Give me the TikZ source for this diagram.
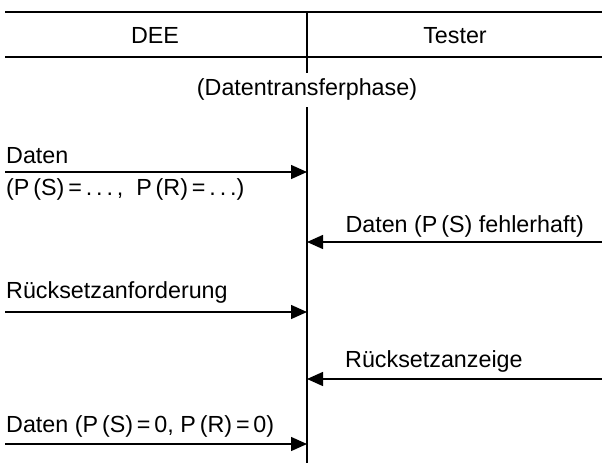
\documentclass[tikz,border=0pt]{standalone}
\usepackage{fontspec}
\setmainfont{Liberation Sans}
\usetikzlibrary{arrows.meta}
\begin{document}
\begin{tikzpicture}[x=1pt,y=-1pt,
  rule/.style={line width=1.4pt},
  msg/.style={line width=1.4pt,-{Triangle[length=16pt,width=14pt]}},
  lbl/.style={font=\fontsize{23.3}{27}\selectfont,inner sep=0pt},
]
\useasboundingbox (0,0) rectangle (602,463);
% header table
\coordinate (tl) at (5,12);
\coordinate (tr) at (602,12);
\coordinate (ml) at (5,57);
\coordinate (mr) at (602,57);
\draw[rule] (tl) -- (tr);
\draw[rule] (ml) -- (mr);
\node[lbl,anchor=base] (dee) at (155,43) {DEE};
\node[lbl,anchor=base] (tester) at (455,43) {Tester};
% phase label and time line
\node[lbl,anchor=base] (phase) at (307,95) {(Datentransferphase)};
\coordinate (vtop) at (307,12);
\coordinate (vbot) at (307,463);
\draw[rule] (vtop) -- (phase.north |- 0,73);
\draw[rule] (phase.south |- 0,107) -- (vbot);
% message endpoints
\coordinate (l1) at (5,172);   \coordinate (c1) at (307,172);
\coordinate (r2) at (602,242); \coordinate (c2) at (307,242);
\coordinate (l3) at (5,312);   \coordinate (c3) at (307,312);
\coordinate (r4) at (602,379); \coordinate (c4) at (307,379);
\coordinate (l5) at (5,444);   \coordinate (c5) at (307,444);
\draw[msg] (l1) -- (c1);
\draw[msg] (r2) -- (c2);
\draw[msg] (l3) -- (c3);
\draw[msg] (r4) -- (c4);
\draw[msg] (l5) -- (c5);
% message labels
\node[lbl,anchor=base west] (m1) at (6,163) {Daten};
\node[lbl,anchor=base west] (m1b) at (6,195) {(P\,(S)\,=\,.\,.\,.\,,\; P\,(R)\,=\,.\,.\,.)};
\node[lbl,anchor=base east] (m2) at (584,232) {Daten (P\,(S) fehlerhaft)};
\node[lbl,anchor=base west] (m3) at (6,298) {Rücksetzanforderung};
\node[lbl,anchor=base west] (m4) at (345,367) {Rücksetzanzeige};
\node[lbl,anchor=base west] (m5) at (6,432) {Daten (P\,(S)\,=\,0, P\,(R)\,=\,0)};
\end{tikzpicture}
\end{document}
